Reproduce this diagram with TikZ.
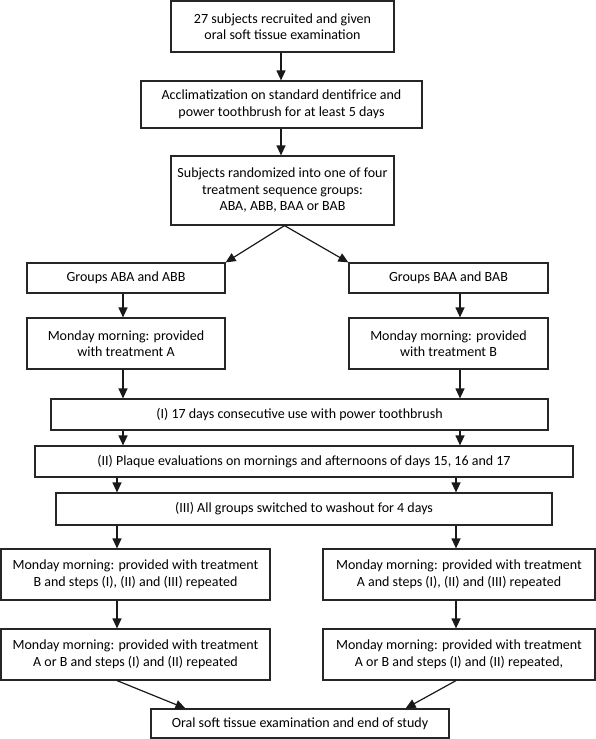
\documentclass[tikz,border=0pt]{standalone}
\usepackage{fontspec}
\setmainfont{Carlito}
\usetikzlibrary{arrows.meta}
\begin{document}
\begin{tikzpicture}[x=1pt, y=-1pt,
    box/.style={draw=black!85, line width=1.2pt, align=center, inner sep=2pt,
        font=\fontsize{14}{16.5}\selectfont},
    arr/.style={line width=1.2pt, draw=black!90, -{Triangle[width=9pt,length=10pt]}}]
    \useasboundingbox (0,0) rectangle (596,739);

    \node[box, minimum width=223pt, minimum height=51pt] (subj) at (282.5,26.5)
        {27 subjects recruited and given\\oral soft tissue examination};
    \node[box, minimum width=281pt, minimum height=47pt] (accl) at (281.5,104.5)
        {Acclimatization on standard dentifrice and\\power toothbrush for at least 5 days};
    \node[box, minimum width=223pt, minimum height=69pt] (rand) at (282.5,190.5)
        {Subjects randomized into one of four\\treatment sequence groups:\\ABA, ABB, BAA or BAB};
    \node[box, minimum width=198pt, minimum height=30pt] (grpA) at (126,278) {Groups ABA and ABB};
    \node[box, minimum width=199pt, minimum height=30pt] (grpB) at (448.5,278) {Groups BAA and BAB};
    \node[box, minimum width=198pt, minimum height=51pt] (trtA) at (126,343.5)
        {Monday morning: provided\\with treatment A};
    \node[box, minimum width=199pt, minimum height=51pt] (trtB) at (448.5,343.5)
        {Monday morning: provided\\with treatment B};
    \node[box, minimum width=497pt, minimum height=31pt] (use) at (299.5,414.5)
        {(I) 17 days consecutive use with power toothbrush};
    \node[box, minimum width=538pt, minimum height=31pt] (plaque) at (304,461.5)
        {(II) Plaque evaluations on mornings and afternoons of days 15, 16 and 17};
    \node[box, minimum width=496pt, minimum height=32pt] (wash) at (304,509)
        {(III) All groups switched to washout for 4 days};
    \node[box, minimum width=269pt, minimum height=51pt] (repA) at (135.5,574.5)
        {Monday morning: provided with treatment\\B and steps (I), (II) and (III) repeated};
    \node[box, minimum width=272pt, minimum height=51pt] (repB) at (459,574.5)
        {Monday morning: provided with treatment\\A and steps (I), (II) and (III) repeated};
    \node[box, minimum width=269pt, minimum height=51pt] (lastA) at (135.5,654.5)
        {Monday morning: provided with treatment\\A or B and steps (I) and (II) repeated};
    \node[box, minimum width=272pt, minimum height=51pt] (lastB) at (459,654.5)
        {Monday morning: provided with treatment\\A or B and steps (I) and (II) repeated,};
    \node[box, minimum width=298pt, minimum height=29pt] (fin) at (300,723.5)
        {Oral soft tissue examination and end of study};

    \coordinate (ct) at (281,0);
    \coordinate (cl) at (123,0);
    \coordinate (cr) at (460,0);
    \coordinate (dl) at (117,0);
    \coordinate (dr) at (456,0);

    \draw[arr] (subj.south -| ct) -- (accl.north -| ct);
    \draw[arr] (accl.south -| ct) -- (rand.north -| ct);
    \draw[arr] ([xshift=2pt]rand.south) -- (grpA.north east);
    \draw[arr] ([xshift=2pt]rand.south) -- (grpB.north west);

    \foreach \a/\b in {grpA/trtA, trtA/use, use/plaque}
    \draw[arr] (\a.south -| cl) -- (\b.north -| cl);
    \foreach \a/\b in {grpB/trtB, trtB/use, use/plaque}
    \draw[arr] (\a.south -| cr) -- (\b.north -| cr);
    \foreach \a/\b in {plaque/wash, wash/repA, repA/lastA}
    \draw[arr] (\a.south -| dl) -- (\b.north -| dl);
    \foreach \a/\b in {plaque/wash, wash/repB, repB/lastB}
    \draw[arr] (\a.south -| dr) -- (\b.north -| dr);

    \draw[arr] (lastA.south -| dl) -- ([xshift=35pt]fin.north west);
    \draw[arr] (lastB.south -| dr) -- ([xshift=-44pt]fin.north east);
\end{tikzpicture}
\end{document}
